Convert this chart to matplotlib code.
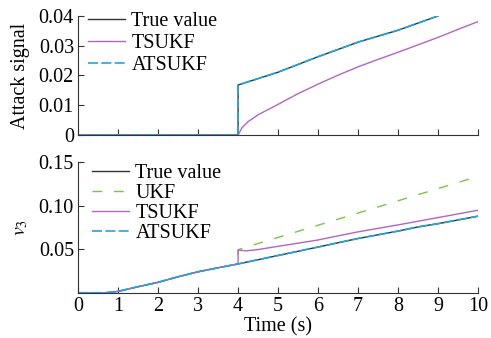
import numpy as np
import matplotlib
matplotlib.use("Agg")
import matplotlib.pyplot as plt

plt.rcParams['font.family'] = ['Liberation Serif', 'DejaVu Serif']
plt.rcParams['mathtext.fontset'] = 'stix'
plt.rcParams['font.size'] = 14.5

# --- top panel: attack signal ---
t_att_true = [0, 4, 4, 5, 6, 7, 8, 9]
att_true = [0, 0, 0.0168, 0.0211, 0.0263, 0.0312, 0.0352, 0.0400]

t_att_ts = [0, 4, 4.1, 4.25, 4.5, 5, 5.5, 6, 6.5, 7, 7.5, 8, 8.5, 9, 9.5, 10]
att_ts = [0, 0, 0.0025, 0.0045, 0.0068, 0.0103, 0.0139, 0.0171, 0.0201,
          0.0229, 0.0254, 0.0278, 0.0303, 0.0328, 0.0355, 0.0381]

t_att_ats = t_att_true
att_ats = att_true

# --- bottom panel: v3 ---
t_v = [0, 0.7, 1, 1.5, 2, 2.5, 3, 3.5, 4, 5, 6, 7, 8, 8.5, 9, 10]
v_true = [0, 0, 0.0015, 0.0069, 0.0119, 0.0183, 0.0240, 0.0286, 0.0330,
          0.0427, 0.0524, 0.0622, 0.0707, 0.0755, 0.0792, 0.0878]
v_ats = v_true

t_ukf = [0, 0.7, 1, 1.5, 2, 2.5, 3, 3.5, 4, 4, 7, 10]
v_ukf = [0, 0, 0.0015, 0.0069, 0.0119, 0.0183, 0.0240, 0.0286, 0.0330,
         0.0494, 0.0914, 0.1335]

t_ts = [0, 0.7, 1, 1.5, 2, 2.5, 3, 3.5, 4, 4, 4.2, 4.5, 5, 5.5, 6, 6.5, 7,
        7.5, 8, 8.5, 9, 9.5, 10]
v_ts = [0, 0, 0.0015, 0.0069, 0.0119, 0.0183, 0.0240, 0.0286, 0.0330,
        0.0489, 0.0480, 0.0495, 0.0532, 0.0568, 0.0605, 0.0652, 0.0698,
        0.0738, 0.0778, 0.0820, 0.0862, 0.0904, 0.0946]

c_true = '#333333'
c_ukf = '#7cc443'
c_ts = '#b266c0'
c_ats = '#1ea6e0'

fig = plt.figure(figsize=(4.91, 3.38), dpi=100)
ax1 = fig.add_axes([0.159, 0.6006, 0.815, 0.3524])
ax2 = fig.add_axes([0.159, 0.134, 0.815, 0.387])

ax1.plot(t_att_true, att_true, color=c_true, lw=1.0, label='True value')
ax1.plot(t_att_ts, att_ts, color=c_ts, lw=1.0, label='TSUKF')
ax1.plot(t_att_ats, att_ats, color=c_ats, lw=1.2, ls=(0, (6, 2)), label='ATSUKF')
ax1.set_xlim(0, 10)
ax1.set_ylim(0, 0.04)
ax1.set_yticks([0, 0.01, 0.02, 0.03, 0.04])
ax1.set_yticklabels(['0', '0.01', '0.02', '0.03', '0.04'])
ax1.set_xticks(range(0, 11))
ax1.set_xticklabels([])
ax1.set_ylabel('Attack signal', labelpad=6)
ax1.legend(loc='upper left', frameon=False, handlelength=1.85, borderaxespad=0.0,
           labelspacing=0.15, handletextpad=0.3, borderpad=0.0,
           bbox_to_anchor=(0.025, 1.035))

ax2.plot(t_v, v_true, color=c_true, lw=1.0, label='True value')
ax2.plot(t_ukf, v_ukf, color=c_ukf, lw=1.0, ls=(0, (7, 8.5)), label='UKF')
ax2.plot(t_ts, v_ts, color=c_ts, lw=1.0, label='TSUKF')
ax2.plot(t_v, v_ats, color=c_ats, lw=1.2, ls=(0, (6, 2)), label='ATSUKF')
ax2.set_xlim(0, 10)
ax2.set_ylim(0, 0.15)
ax2.set_yticks([0.05, 0.10, 0.15])
ax2.set_yticklabels(['0.05', '0.10', '0.15'])
ax2.set_xticks(range(0, 11))
ax2.set_xlabel('Time (s)', labelpad=1)
ax2.set_ylabel('$v_3$', labelpad=6)
ax2.legend(loc='upper left', frameon=False, handlelength=1.85, borderaxespad=0.0,
           labelspacing=0.05, handletextpad=0.3, borderpad=0.0,
           bbox_to_anchor=(0.035, 0.985))

for ax in (ax1, ax2):
    ax.spines['top'].set_visible(False)
    ax.spines['right'].set_visible(False)
    ax.spines['left'].set_color('#333333')
    ax.spines['bottom'].set_color('#333333')
    ax.tick_params(direction='in', length=4, width=0.8, color='#333333', pad=3)

fig.savefig('out.png', dpi=100)
